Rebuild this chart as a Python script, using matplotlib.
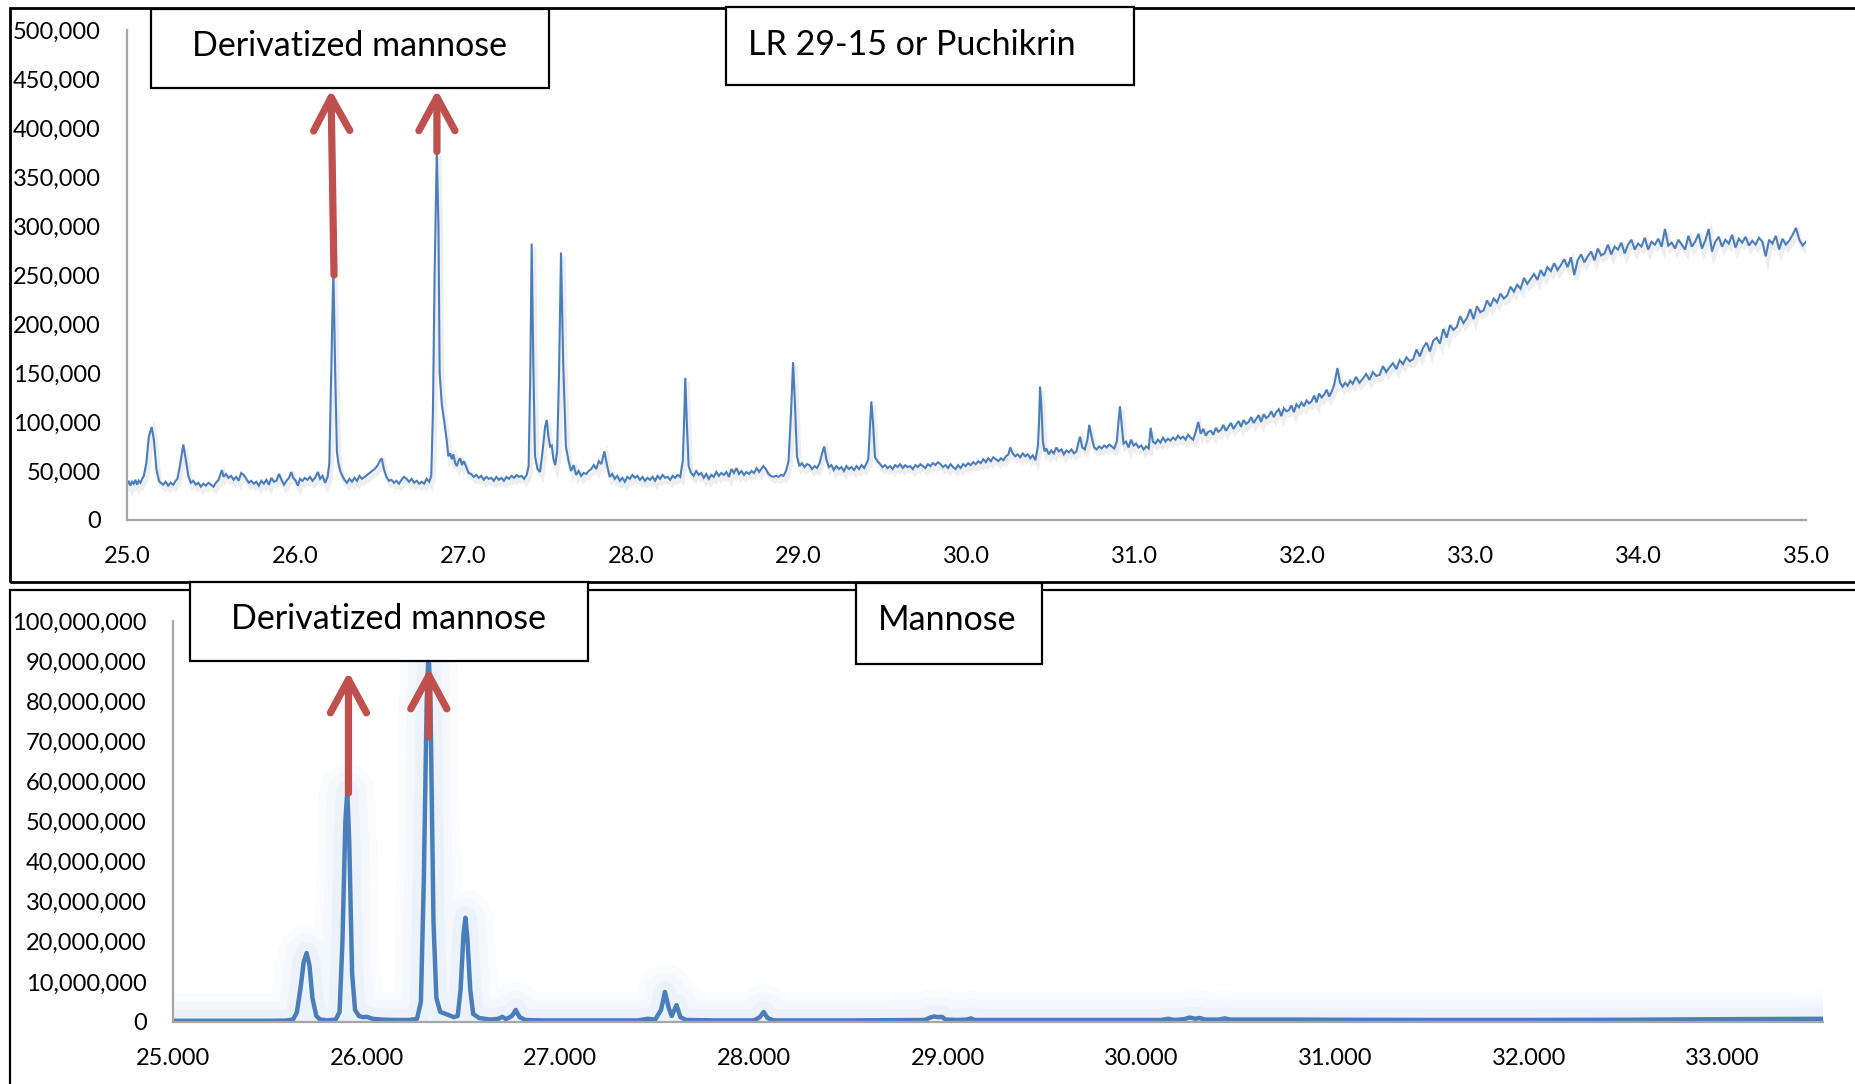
import matplotlib
matplotlib.use("Agg")
import matplotlib.pyplot as plt
import matplotlib.patheffects as pe
from matplotlib.patches import Rectangle
from matplotlib.ticker import FuncFormatter, MultipleLocator
import numpy as np

plt.rcParams['font.family'] = ['Lato', 'DejaVu Sans']

# sample chromatogram (LR 29-15 / Puchikrin): retention time, abundance in thousands
sample_points = [
    (25.000, 36), (25.010, 40), (25.020, 35), (25.030, 39), (25.040, 37), (25.050, 41), (25.060, 36), (25.070, 40),
    (25.080, 38), (25.090, 42), (25.100, 45), (25.115, 58), (25.130, 85), (25.147, 95), (25.160, 82), (25.175, 52),
    (25.190, 40), (25.200, 38), (25.215, 36), (25.230, 39), (25.245, 35), (25.260, 38), (25.275, 36), (25.290, 40),
    (25.300, 42), (25.315, 55), (25.335, 77), (25.350, 62), (25.365, 45), (25.380, 38), (25.395, 40), (25.410, 36),
    (25.425, 38), (25.440, 34), (25.455, 37), (25.470, 35), (25.485, 38), (25.500, 36), (25.515, 34), (25.530, 38),
    (25.545, 41), (25.565, 51), (25.575, 44), (25.590, 47), (25.605, 43), (25.620, 45), (25.635, 41), (25.650, 44),
    (25.665, 40), (25.680, 48), (25.695, 46), (25.710, 42), (25.725, 38), (25.740, 40), (25.755, 37), (25.770, 39),
    (25.785, 35), (25.800, 40), (25.815, 37), (25.830, 41), (25.845, 36), (25.860, 43), (25.875, 39), (25.890, 40),
    (25.905, 47), (25.920, 41), (25.935, 36), (25.950, 40), (25.965, 43), (25.978, 49), (25.990, 43), (26.005, 40),
    (26.018, 35), (26.030, 42), (26.045, 40), (26.060, 43), (26.075, 41), (26.090, 44), (26.105, 40), (26.120, 43),
    (26.137, 49), (26.150, 42), (26.165, 45), (26.180, 38), (26.195, 44), (26.205, 58), (26.215, 140), (26.229, 255),
    (26.240, 150), (26.250, 70), (26.259, 58), (26.270, 50), (26.280, 46), (26.295, 41), (26.310, 38), (26.325, 42),
    (26.340, 39), (26.355, 43), (26.370, 40), (26.385, 45), (26.400, 42), (26.415, 44), (26.430, 46), (26.445, 48),
    (26.460, 50), (26.475, 52), (26.490, 55), (26.505, 60), (26.517, 63), (26.530, 52), (26.545, 44), (26.560, 40),
    (26.575, 41), (26.590, 38), (26.605, 40), (26.620, 37), (26.635, 41), (26.650, 44), (26.665, 42), (26.680, 39),
    (26.695, 42), (26.710, 38), (26.725, 40), (26.740, 37), (26.755, 39), (26.770, 37), (26.785, 42), (26.800, 39),
    (26.812, 45), (26.822, 110), (26.832, 250), (26.845, 376), (26.855, 300), (26.862, 150), (26.875, 118), (26.894, 95),
    (26.905, 80), (26.914, 65), (26.925, 68), (26.935, 62), (26.944, 67), (26.955, 58), (26.964, 55), (26.974, 60),
    (26.984, 63), (26.995, 56), (27.005, 60), (27.014, 57), (27.025, 52), (27.034, 48), (27.050, 47), (27.065, 44),
    (27.080, 46), (27.095, 43), (27.110, 45), (27.125, 41), (27.140, 44), (27.155, 42), (27.170, 43), (27.185, 40),
    (27.200, 44), (27.215, 41), (27.230, 43), (27.245, 40), (27.260, 44), (27.275, 42), (27.290, 45), (27.305, 43),
    (27.320, 46), (27.335, 44), (27.350, 45), (27.365, 42), (27.380, 46), (27.392, 55), (27.402, 150), (27.410, 282),
    (27.420, 160), (27.430, 65), (27.445, 52), (27.460, 49), (27.475, 70), (27.490, 95), (27.500, 102), (27.510, 85),
    (27.520, 75), (27.530, 76), (27.540, 62), (27.550, 56), (27.562, 70), (27.573, 150), (27.585, 273), (27.598, 160),
    (27.614, 75), (27.630, 60), (27.645, 50), (27.660, 56), (27.675, 46), (27.690, 50), (27.705, 45), (27.720, 48),
    (27.735, 47), (27.750, 50), (27.765, 52), (27.780, 56), (27.795, 52), (27.810, 60), (27.825, 57), (27.843, 70),
    (27.860, 55), (27.875, 44), (27.890, 47), (27.905, 42), (27.920, 45), (27.935, 40), (27.950, 43), (27.965, 39),
    (27.980, 44), (27.995, 42), (28.010, 46), (28.025, 43), (28.040, 45), (28.055, 41), (28.070, 44), (28.085, 40),
    (28.100, 43), (28.115, 41), (28.130, 44), (28.145, 40), (28.160, 45), (28.175, 42), (28.190, 46), (28.205, 43),
    (28.220, 44), (28.235, 41), (28.250, 45), (28.265, 43), (28.280, 46), (28.295, 44), (28.310, 60), (28.318, 100),
    (28.325, 145), (28.333, 105), (28.345, 55), (28.360, 48), (28.375, 45), (28.390, 50), (28.405, 46), (28.420, 48),
    (28.435, 43), (28.450, 47), (28.465, 42), (28.480, 46), (28.495, 44), (28.510, 49), (28.525, 45), (28.540, 48),
    (28.555, 46), (28.570, 49), (28.585, 44), (28.600, 52), (28.615, 48), (28.630, 53), (28.645, 47), (28.660, 50),
    (28.675, 46), (28.690, 49), (28.705, 47), (28.720, 50), (28.735, 48), (28.750, 53), (28.765, 49), (28.790, 55),
    (28.805, 52), (28.820, 47), (28.835, 45), (28.850, 44), (28.865, 45), (28.880, 44), (28.895, 46), (28.910, 45),
    (28.925, 50), (28.940, 60), (28.955, 110), (28.967, 161), (28.978, 120), (28.990, 65), (29.005, 55), (29.020, 58),
    (29.035, 54), (29.050, 57), (29.065, 56), (29.080, 52), (29.095, 55), (29.110, 53), (29.125, 58), (29.140, 68),
    (29.153, 75), (29.165, 62), (29.180, 54), (29.195, 56), (29.210, 51), (29.225, 55), (29.240, 52), (29.255, 54),
    (29.270, 50), (29.285, 55), (29.300, 52), (29.315, 54), (29.330, 51), (29.345, 55), (29.360, 52), (29.375, 56),
    (29.390, 53), (29.405, 58), (29.415, 62), (29.425, 95), (29.433, 121), (29.443, 100), (29.455, 64), (29.470, 60),
    (29.485, 57), (29.500, 54), (29.515, 56), (29.530, 53), (29.545, 55), (29.560, 52), (29.575, 56), (29.590, 54),
    (29.605, 57), (29.620, 53), (29.635, 56), (29.650, 54), (29.665, 55), (29.680, 52), (29.695, 56), (29.710, 54),
    (29.725, 57), (29.740, 55), (29.755, 53), (29.770, 57), (29.785, 55), (29.800, 58), (29.815, 56), (29.830, 59),
    (29.845, 57), (29.860, 54), (29.875, 56), (29.890, 53), (29.905, 57), (29.920, 54), (29.935, 52), (29.950, 56),
    (29.965, 53), (29.980, 57), (29.995, 55), (30.010, 58), (30.025, 56), (30.040, 59), (30.055, 57), (30.070, 60),
    (30.085, 58), (30.100, 62), (30.115, 59), (30.130, 63), (30.145, 60), (30.160, 64), (30.175, 62), (30.190, 60),
    (30.205, 63), (30.220, 61), (30.235, 65), (30.250, 67), (30.260, 74), (30.275, 68), (30.290, 65), (30.305, 67),
    (30.320, 64), (30.335, 68), (30.350, 65), (30.365, 67), (30.380, 63), (30.395, 66), (30.410, 61), (30.425, 75),
    (30.432, 100), (30.438, 136), (30.445, 120), (30.455, 80), (30.465, 70), (30.475, 73), (30.490, 67), (30.505, 71),
    (30.520, 68), (30.535, 74), (30.550, 70), (30.565, 72), (30.580, 67), (30.595, 71), (30.610, 69), (30.625, 72),
    (30.640, 68), (30.655, 70), (30.665, 78), (30.676, 85), (30.690, 74), (30.705, 72), (30.720, 82), (30.731, 97),
    (30.745, 85), (30.760, 74), (30.775, 72), (30.790, 75), (30.805, 73), (30.820, 76), (30.835, 74), (30.850, 77),
    (30.865, 75), (30.880, 73), (30.895, 80), (30.905, 100), (30.914, 116), (30.923, 100), (30.935, 78), (30.950, 80),
    (30.965, 74), (30.980, 82), (30.995, 76), (31.010, 78), (31.025, 74), (31.040, 76), (31.055, 72), (31.070, 75),
    (31.085, 73), (31.097, 94), (31.110, 80), (31.125, 78), (31.140, 82), (31.155, 79), (31.170, 84), (31.185, 80),
    (31.200, 83), (31.215, 81), (31.230, 84), (31.245, 82), (31.260, 86), (31.275, 83), (31.290, 85), (31.305, 82),
    (31.320, 87), (31.335, 84), (31.350, 82), (31.365, 90), (31.380, 100), (31.395, 88), (31.410, 93), (31.425, 86),
    (31.440, 90), (31.455, 91), (31.470, 87), (31.485, 94), (31.500, 90), (31.515, 92), (31.530, 97), (31.545, 91),
    (31.560, 95), (31.575, 99), (31.590, 93), (31.605, 97), (31.620, 101), (31.635, 95), (31.650, 102), (31.665, 98),
    (31.680, 100), (31.695, 105), (31.710, 99), (31.725, 103), (31.740, 107), (31.755, 100), (31.770, 108), (31.785, 104),
    (31.800, 106), (31.815, 111), (31.830, 105), (31.845, 110), (31.860, 113), (31.875, 106), (31.890, 114), (31.905, 111),
    (31.920, 112), (31.935, 117), (31.950, 110), (31.965, 118), (31.980, 115), (31.995, 120), (32.010, 116), (32.025, 122),
    (32.040, 119), (32.055, 121), (32.070, 127), (32.085, 120), (32.100, 129), (32.115, 125), (32.130, 128), (32.145, 133),
    (32.160, 126), (32.175, 131), (32.190, 138), (32.209, 155), (32.225, 140), (32.240, 136), (32.255, 140), (32.270, 137),
    (32.285, 142), (32.300, 139), (32.320, 146), (32.340, 140), (32.360, 144), (32.380, 149), (32.400, 143), (32.420, 151),
    (32.440, 147), (32.460, 148), (32.480, 157), (32.500, 151), (32.520, 156), (32.540, 160), (32.560, 154), (32.580, 163),
    (32.600, 159), (32.620, 166), (32.640, 162), (32.660, 164), (32.680, 174), (32.700, 167), (32.720, 176), (32.740, 181),
    (32.760, 172), (32.780, 183), (32.800, 186), (32.820, 180), (32.840, 195), (32.860, 186), (32.880, 199), (32.900, 194),
    (32.920, 197), (32.940, 208), (32.960, 201), (32.980, 206), (33.000, 215), (33.020, 205), (33.040, 218), (33.060, 212),
    (33.080, 214), (33.100, 224), (33.120, 218), (33.140, 226), (33.160, 222), (33.180, 231), (33.200, 226), (33.220, 229),
    (33.240, 238), (33.260, 233), (33.280, 240), (33.300, 236), (33.320, 247), (33.340, 241), (33.360, 246), (33.380, 251),
    (33.400, 245), (33.420, 255), (33.440, 249), (33.460, 258), (33.480, 254), (33.500, 262), (33.520, 255), (33.540, 260),
    (33.560, 266), (33.580, 258), (33.600, 268), (33.620, 250), (33.640, 265), (33.660, 271), (33.680, 263), (33.700, 269),
    (33.720, 274), (33.740, 265), (33.760, 277), (33.780, 270), (33.800, 272), (33.820, 281), (33.840, 271), (33.860, 279),
    (33.880, 276), (33.900, 283), (33.920, 272), (33.940, 281), (33.960, 286), (33.980, 276), (34.000, 282), (34.020, 279),
    (34.040, 288), (34.060, 276), (34.080, 284), (34.100, 281), (34.120, 287), (34.140, 279), (34.160, 297), (34.180, 280),
    (34.200, 283), (34.220, 277), (34.240, 286), (34.260, 281), (34.280, 276), (34.300, 290), (34.320, 279), (34.340, 284),
    (34.360, 292), (34.380, 277), (34.400, 285), (34.420, 297), (34.440, 274), (34.460, 284), (34.480, 289), (34.500, 279),
    (34.520, 286), (34.540, 282), (34.560, 291), (34.580, 278), (34.600, 287), (34.620, 283), (34.640, 289), (34.660, 280),
    (34.680, 285), (34.700, 281), (34.720, 288), (34.740, 284), (34.760, 269), (34.780, 286), (34.800, 282), (34.820, 290),
    (34.840, 276), (34.860, 287), (34.880, 281), (34.900, 285), (34.920, 291), (34.940, 298), (34.960, 286), (34.980, 280),
    (35.000, 284),
]

# mannose standard chromatogram: retention time, abundance in millions
standard_points = [
    (25.00, 0.3), (25.10, 0.3), (25.20, 0.3), (25.30, 0.3), (25.40, 0.3), (25.50, 0.3), (25.58, 0.35), (25.62, 0.6),
    (25.64, 2.5), (25.66, 9.0), (25.675, 15.0), (25.69, 17.2), (25.705, 14.0), (25.72, 6.0), (25.74, 1.5), (25.76, 0.6),
    (25.80, 0.4), (25.84, 0.6), (25.86, 2.5), (25.875, 20.0), (25.89, 50.0), (25.90, 57.5), (25.91, 45.0), (25.925, 12.0),
    (25.94, 3.0), (25.96, 1.5), (25.98, 1.2), (26.00, 1.3), (26.03, 0.8), (26.08, 0.6), (26.15, 0.5), (26.22, 0.5),
    (26.26, 0.8), (26.28, 5.0), (26.295, 35.0), (26.31, 80.0), (26.32, 93.0), (26.33, 78.0), (26.345, 25.0), (26.36, 6.0),
    (26.38, 2.5), (26.42, 1.8), (26.45, 1.2), (26.47, 1.5), (26.485, 8.0), (26.50, 22.0), (26.51, 26.0), (26.52, 21.0),
    (26.535, 8.0), (26.55, 2.0), (26.58, 1.0), (26.64, 0.6), (26.68, 0.8), (26.70, 1.3), (26.72, 0.7), (26.75, 1.5),
    (26.77, 3.0), (26.79, 1.2), (26.82, 0.5), (26.90, 0.4), (27.00, 0.4), (27.20, 0.4), (27.40, 0.4), (27.45, 0.8),
    (27.49, 0.6), (27.52, 3.0), (27.54, 7.5), (27.56, 3.5), (27.575, 1.5), (27.60, 4.2), (27.62, 1.2), (27.65, 0.5),
    (27.80, 0.4), (28.00, 0.4), (28.03, 1.2), (28.05, 2.5), (28.07, 1.0), (28.10, 0.4), (28.50, 0.4), (28.88, 0.5),
    (28.91, 1.1), (28.93, 1.4), (28.95, 1.2), (28.97, 1.3), (28.99, 0.6), (29.05, 0.5), (29.10, 0.6), (29.12, 0.9),
    (29.14, 0.5), (29.50, 0.5), (30.10, 0.5), (30.14, 0.8), (30.17, 0.5), (30.22, 0.7), (30.25, 1.1), (30.28, 0.8),
    (30.30, 1.0), (30.33, 0.6), (30.40, 0.6), (30.43, 0.9), (30.46, 0.6), (30.60, 0.6), (30.80, 0.6), (31.00, 0.55),
    (31.50, 0.5), (32.00, 0.5), (32.50, 0.55), (33.00, 0.7), (33.52, 0.8),
]

# arrows: (x of base, y of base, x of tip, y of tip)
sample_arrows = [(26.233, 250000, 26.215, 439000), (26.846, 376000, 26.846, 439000)]
standard_arrows = [(25.906, 57.1e6, 25.906, 87.3e6), (26.321, 71.1e6, 26.321, 88.3e6)]

W, H = 1856, 1084
BLUE = '#4A7EBB'
RED = '#C0504D'
AXIS = '#A6A6A6'


def fx(x):
    return x / W


def fy(y):
    return 1 - y / H


def box(fig, left, top, right, bottom, lw=1.6):
    fig.add_artist(Rectangle((fx(left), fy(bottom)), (right - left) / W, (bottom - top) / H,
                             transform=fig.transFigure, facecolor='white', edgecolor='black',
                             linewidth=lw, zorder=5))


def style_axis(ax):
    for s in ['top', 'right']:
        ax.spines[s].set_visible(False)
    for s in ['left', 'bottom']:
        ax.spines[s].set_color(AXIS)
        ax.spines[s].set_linewidth(1.6)
    ax.tick_params(length=0, pad=19, labelsize=17, colors='black')
    ax.patch.set_alpha(0)


fig = plt.figure(figsize=(W / 100, H / 100), dpi=100)

# outer frames
fig.add_artist(Rectangle((fx(10), fy(582)), (1880 - 10) / W, (582 - 8) / H, transform=fig.transFigure,
                         fill=False, edgecolor='black', linewidth=2.0, zorder=4))
fig.add_artist(Rectangle((fx(10), fy(1110)), (1880 - 10) / W, (1110 - 590) / H, transform=fig.transFigure,
                         fill=False, edgecolor='black', linewidth=1.6, zorder=4))

# top panel
ax1 = fig.add_axes([fx(127), fy(520), (1806 - 127) / W, (520 - 30) / H])
rt1 = np.array([p[0] for p in sample_points])
ab1 = np.array([p[1] for p in sample_points]) * 1000
ax1.plot(rt1, ab1, color=BLUE, lw=1.5, solid_joinstyle='miter',
         path_effects=[pe.SimpleLineShadow(offset=(1.5, -3), shadow_color='#888888', alpha=0.14, linewidth=3.5),
                       pe.Normal()])
ax1.set_xlim(25, 35)
ax1.set_ylim(0, 500000)
ax1.xaxis.set_major_locator(MultipleLocator(1))
ax1.yaxis.set_major_locator(MultipleLocator(50000))
ax1.xaxis.set_major_formatter(FuncFormatter(lambda v, p: '{:.1f}'.format(v)))
ax1.yaxis.set_major_formatter(FuncFormatter(lambda v, p: '{:,.0f}'.format(v)))
style_axis(ax1)
for x0, y0, x1, y1 in sample_arrows:
    ax1.annotate('', xy=(x1, y1), xytext=(x0, y0),
                 arrowprops=dict(arrowstyle='->,head_length=1.2,head_width=0.65', lw=5.2, color=RED,
                                 shrinkA=0, shrinkB=0, mutation_scale=20, joinstyle='round', capstyle='round'))

# bottom panel
ax2 = fig.add_axes([fx(173), fy(1022), (1823 - 173) / W, (1022 - 621) / H])
rt2 = np.array([p[0] for p in standard_points])
ab2 = np.array([p[1] for p in standard_points]) * 1e6
for w, a in [(40, 0.045), (28, 0.055), (16, 0.07)]:
    ax2.plot(rt2, ab2, color='#8DB4E2', lw=w, alpha=a, solid_joinstyle='round', solid_capstyle='butt')
ax2.plot(rt2, ab2, color=BLUE, lw=3.2, solid_joinstyle='round')
ax2.set_xlim(25, 33.52)
ax2.set_ylim(0, 100e6)
ax2.set_xticks(np.arange(25, 34, 1.0))
ax2.yaxis.set_major_locator(MultipleLocator(10e6))
ax2.xaxis.set_major_formatter(FuncFormatter(lambda v, p: '{:.3f}'.format(v)))
ax2.yaxis.set_major_formatter(FuncFormatter(lambda v, p: '{:,.0f}'.format(v)))
style_axis(ax2)
for x0, y0, x1, y1 in standard_arrows:
    ax2.annotate('', xy=(x1, y1), xytext=(x0, y0),
                 arrowprops=dict(arrowstyle='->,head_length=1.2,head_width=0.65', lw=5.2, color=RED,
                                 shrinkA=0, shrinkB=0, mutation_scale=20, joinstyle='round', capstyle='round'))

# label boxes
LABEL_SIZE = 24.5
box(fig, 151, 9, 549, 88)
fig.text(fx(350), fy(56), 'Derivatized mannose', ha='center', va='baseline', fontsize=LABEL_SIZE, zorder=6)
box(fig, 726, 7, 1134, 85)
fig.text(fx(748), fy(55), 'LR 29-15 or Puchikrin', ha='left', va='baseline', fontsize=LABEL_SIZE, zorder=6)
box(fig, 190, 582, 588, 661)
fig.text(fx(389), fy(629), 'Derivatized mannose', ha='center', va='baseline', fontsize=LABEL_SIZE, zorder=6)
box(fig, 856, 583, 1042, 664)
fig.text(fx(947), fy(630), 'Mannose', ha='center', va='baseline', fontsize=LABEL_SIZE, zorder=6)

fig.savefig('out.png', dpi=100)
